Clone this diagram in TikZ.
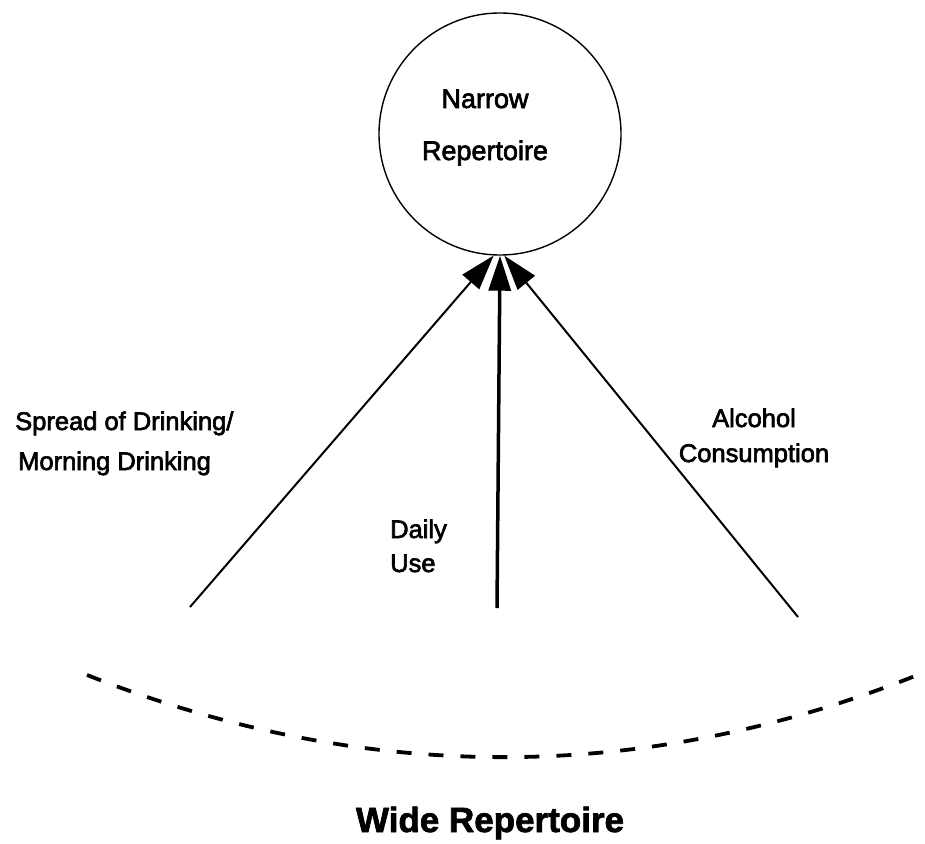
\documentclass[tikz,border=0pt]{standalone}
\usepackage{fontspec}
\setmainfont{Liberation Sans}
\newfontfamily\scanfont{Liberation Sans}[FakeBold=2.5]
\newfontfamily\scanbold{Liberation Sans Bold}[FakeBold=2]
\usetikzlibrary{arrows.meta}
\begin{document}
\begin{tikzpicture}[x=1pt,y=-1pt,
  lbl/.style={inner sep=0pt},
  headtip/.style={-{Triangle[length=35pt,width=22pt]}},
  sidearrow/.style={line width=2pt, headtip},
  midarrow/.style={line width=3.5pt, headtip},
  wavy/.style={line width=3.8pt, dash pattern=on 15pt off 17pt}]
\useasboundingbox (0,0) rectangle (925,843);
% circle
\node[circle, draw, line width=1.4pt, minimum size=242pt, inner sep=0pt] (nar) at (500,134) {};
\node[lbl, align=center, anchor=base, font=\scanfont\fontsize{27}{52}\selectfont] (nartext) at (485,160) {Narrow\\Repertoire};
% arrow starts
\coordinate (ls) at (190,607);
\coordinate (ms) at (497,608);
\coordinate (rs) at (798,617);
\draw[sidearrow] (ls) -- (nar.-93.7);
\draw[midarrow] (ms) -- (nar.south);
\draw[sidearrow] (rs) -- (nar.-88.6);
% labels (base anchor = last line's baseline)
\node[lbl, align=left, anchor=base west, font=\scanfont\fontsize{25.5}{40}\selectfont] (spread) at (15,470) {Spread of Drinking/\\\hspace*{3pt}Morning Drinking};
\node[lbl, align=center, anchor=base, font=\scanfont\fontsize{25.5}{35}\selectfont] (alc) at (754,462) {Alcohol\\Consumption};
\node[lbl, align=left, anchor=base west, font=\scanfont\fontsize{25.5}{34}\selectfont] (daily) at (390,572) {Daily\\Use};
% dashed curve
\coordinate (cl) at (87,675);
\coordinate (cr) at (925,672);
\draw[wavy] (cl) .. controls (366,785) and (646,785) .. (cr);
% bottom label
\node[lbl, anchor=base, font=\scanbold\fontsize{35}{42}\selectfont] (wide) at (490,832) {Wide Repertoire};
\end{tikzpicture}
\end{document}
